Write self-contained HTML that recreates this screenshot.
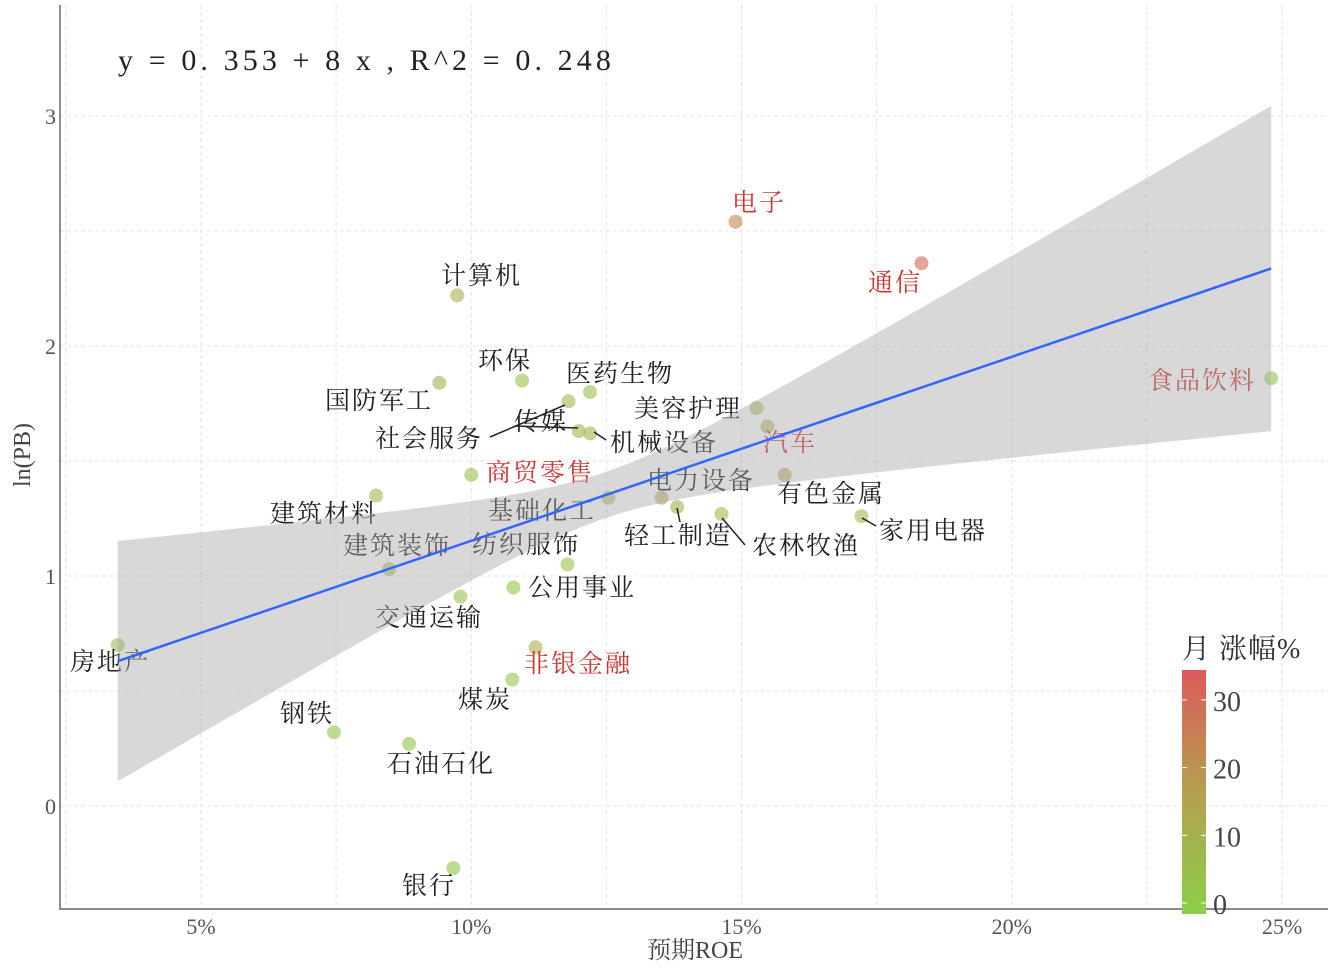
<!DOCTYPE html>
<html><head><meta charset="utf-8"><style>
html,body{margin:0;padding:0;background:#fff;}
svg{display:block;}
text{font-family:"Liberation Serif","Noto Serif CJK SC",serif;}
</style></head><body>
<svg id="chart" width="1338" height="969" viewBox="0 0 1338 969" xmlns="http://www.w3.org/2000/svg"></svg>
<script>
const industries=["房地产","钢铁","石油石化","银行","交通运输","建筑装饰","建筑材料","国防军工","计算机","商贸零售","环保","煤炭","公用事业","非银金融","纺织服饰","传媒","社会服务","机械设备","医药生物","基础化工","电力设备","轻工制造","农林牧渔","美容护理","汽车","有色金属","电子","通信","家用电器","食品饮料"];
const roeValues=[3.46,7.46,8.85,9.67,9.8,8.48,8.24,9.41,9.74,10.0,10.94,10.76,10.78,11.19,11.78,11.99,11.8,12.2,12.2,12.54,13.52,13.81,14.63,15.28,15.48,15.8,14.89,18.33,17.22,24.8];
const lnPbValues=[0.70,0.32,0.27,-0.27,0.91,1.03,1.35,1.84,2.22,1.44,1.85,0.55,0.95,0.69,1.05,1.63,1.76,1.62,1.80,1.34,1.34,1.30,1.27,1.73,1.65,1.44,2.54,2.36,1.26,1.86];
const monthChange=[6,3,4,4,5,6,7,10,13,6,5,4,4,12,5,9,8,12,6,10,17,10,6,10,13,20,23,31,7,4];
const redLabels=["电子","通信","食品饮料","汽车","商贸零售","非银金融"];
const xTicks=[5,10,15,20,25];
const yTicks=[0,1,2,3];
const cbTicks=[0,10,20,30];
const fitIntercept=0.353, fitSlope=8;
const labelPos={"房地产":[70,670],"钢铁":[280,722],"石油石化":[387,772],"银行":[402,894],"交通运输":[375,626],"建筑装饰":[343,554],"建筑材料":[270,522],"国防军工":[325,409],"计算机":[441,284],"商贸零售":[486,481],"环保":[478,369],"煤炭":[458,708],"公用事业":[528,596],"非银金融":[524,672],"纺织服饰":[472,553],"传媒":[514,430],"社会服务":[375,447],"机械设备":[610,451],"医药生物":[566,382],"基础化工":[488,519],"电力设备":[647,489],"轻工制造":[624,544],"农林牧渔":[752,554],"美容护理":[634,417],"汽车":[763,451],"有色金属":[777,502],"电子":[732,211],"通信":[868,291],"家用电器":[879,539],"食品饮料":[1148,389]};
const NS="http://www.w3.org/2000/svg";
const svg=document.getElementById('chart');
const X0=60,X1=1328,Y0=5,Y1=909;
function xs(v){return 201+(v-5)*54.05;}
function ys(v){return 806-v*230;}
function mk(tag,attrs,parent){const e=document.createElementNS(NS,tag);for(const k in attrs)e.setAttribute(k,attrs[k]);(parent||svg).appendChild(e);return e;}
function col(v){const t=Math.max(0,Math.min(1,v/34));const a=[140,207,74],m=[180,160,80],b=[220,90,90];let c;if(t<0.5){const u=t/0.5;c=a.map((x,i)=>x+(m[i]-x)*u);}else{const u=(t-0.5)/0.5;c=m.map((x,i)=>x+(b[i]-x)*u);}return `rgb(${c.map(Math.round).join(',')})`;}
for(let v=2.5;v<=25;v+=2.5){const g=mk('line',{x1:xs(v),x2:xs(v),y1:Y0,y2:Y1,stroke:'#e2e2e2','stroke-dasharray':'4,3','stroke-width':1});}
for(let v=-0.5;v<=3.5;v+=0.5){if(ys(v)<Y0||ys(v)>Y1)continue;const g=mk('line',{x1:X0,x2:X1,y1:ys(v),y2:ys(v),stroke:'#e6e6e6','stroke-dasharray':'4,3','stroke-width':1});}
const pg=mk('g',{});
industries.forEach((n,i)=>{const c=mk('circle',{cx:xs(roeValues[i]),cy:ys(lnPbValues[i]),r:7,fill:col(monthChange[i]),'fill-opacity':0.6},pg);});
const lg=mk('g',{});
industries.forEach(n=>{const p=labelPos[n];const t=mk('text',{x:p[0],y:p[1],'font-size':25,'letter-spacing':2,fill:redLabels.includes(n)?'#cc3333':'#222'},lg);t.textContent=n;});
[[490,437,565,405],[515,426,578,428],[594,432,606,440],[677,508,680,522],[722,518,745,545],[862,518,876,526]].forEach(l=>{const e=mk('line',{x1:l[0],y1:l[1],x2:l[2],y2:l[3],stroke:'#222','stroke-width':1.5});});
const xmin=Math.min(...roeValues),xmax=Math.max(...roeValues);
const mean=12.48,a0=0.01,b0=0.00323;
let up=[],lo=[];
for(let k=0;k<=60;k++){const v=xmin+(xmax-xmin)*k/60;const f=fitIntercept+fitSlope*v/100;const h=Math.sqrt(a0+b0*(v-mean)**2);up.push([xs(v),ys(f+h)]);lo.push([xs(v),ys(f-h)]);}
const band=mk('polygon',{points:up.concat(lo.reverse()).map(p=>p.join(',')).join(' '),fill:'#a8a8a8','fill-opacity':0.45});

const fl=mk('line',{x1:xs(xmin),y1:ys(fitIntercept+fitSlope*xmin/100),x2:xs(xmax),y2:ys(fitIntercept+fitSlope*xmax/100),stroke:'#3366ff','stroke-width':2.5});

const ax=mk('path',{d:`M${X0},${Y0}V${Y1}H${X1}`,fill:'none',stroke:'#666','stroke-width':1.5});
xTicks.forEach(v=>{const t=mk('text',{x:xs(v),y:934,'font-size':22,fill:'#555','text-anchor':'middle'});t.textContent=v+'%';});
yTicks.forEach(v=>{const t=mk('text',{x:56,y:ys(v)+8,'font-size':22,fill:'#555','text-anchor':'end'});t.textContent=v;});
const xt=mk('text',{x:695,y:958,'font-size':24,fill:'#444','text-anchor':'middle'});xt.textContent='预期ROE';
const yt=mk('text',{x:0,y:0,'font-size':24,fill:'#444','text-anchor':'middle',transform:'translate(30,455) rotate(-90)'});yt.textContent='ln(PB)';
const eq=mk('text',{x:118,y:70,'font-size':30,fill:'#222','letter-spacing':4.1,'xml:space':'preserve'});eq.textContent='y = 0. 353 + 8 x , R^2 = 0. 248';
const defs=mk('defs',{});const gr=mk('linearGradient',{id:'cb',x1:0,y1:1,x2:0,y2:0},defs);
[0,8,17,25,34].forEach(v=>mk('stop',{offset:v/34,'stop-color':col(v)},gr));
const cbr=mk('rect',{x:1182,y:670,width:24,height:244,fill:'url(#cb)'});
function cby(v){return 903-v*6.77;}
cbTicks.forEach(v=>{mk('line',{x1:1182,x2:1187,y1:cby(v),y2:cby(v),stroke:'#fff','stroke-width':1});mk('line',{x1:1201,x2:1206,y1:cby(v),y2:cby(v),stroke:'#fff','stroke-width':1});const t=mk('text',{x:1213,y:cby(v)+11,'font-size':28,fill:'#444'});t.textContent=v;});
const ct=mk('text',{x:1182,y:658,'font-size':28,fill:'#333','letter-spacing':1});ct.textContent='月 涨幅%';
</script>
</body></html>
